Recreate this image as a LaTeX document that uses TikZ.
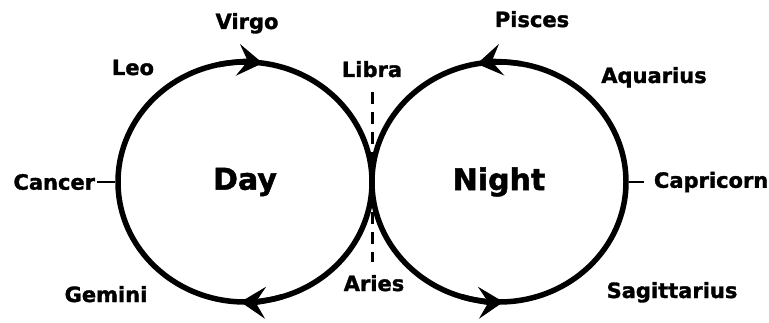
\documentclass[tikz,border=0pt]{standalone}
\usepackage{fontspec}
\setmainfont[BoldFeatures={FakeBold=1.5}]{DejaVu Sans}
\usetikzlibrary{shapes.geometric,positioning,arrows.meta}

\begin{document}
\begin{tikzpicture}[x=1pt,y=1pt,>=Stealth,
   half/.style={ellipse,draw,line width=5.5pt,minimum width=254pt,minimum height=240pt,
     inner sep=0pt,font=\fontsize{30}{32}\selectfont\bfseries},
   sign/.style={inner sep=0pt,font=\fontsize{21}{22}\selectfont\bfseries},
   flow/.style={line width=5.5pt,-{Stealth[length=25pt,width=32pt,inset=10pt,line width=1pt]}},
   tick/.style={line width=2.5pt}]
 \useasboundingbox (0,0) rectangle (769,322);
 \node[half] (D) at (245,140) {Day};
 \node[half] (N) at (499,140) {Night};
 \coordinate (cL) at ([xshift=-18pt]D.west);
 \coordinate (cR) at ([xshift=15pt]N.east);
 \node[sign] (Cn) [left=2pt of cL] {Cancer};
 \node[sign] (Cp) [right=10pt of cR] {Capricorn};
 \node[sign,anchor=base] (Vi) at (247,293) {Virgo};
 \node[sign,anchor=base] (Le) at (133,247) {Leo};
 \node[sign,anchor=base] (Li) at (372,245) {Libra};
 \node[sign,anchor=base] (Pi) at (532,295) {Pisces};
 \node[sign,anchor=base] (Aq) at (654,239) {Aquarius};
 \node[sign,anchor=base] (Ge) at (106,20) {Gemini};
 \node[sign,anchor=base] (Ar) at (374,31) {Aries};
 \node[sign,anchor=base] (Sa) at (672,24) {Sagittarius};
 \draw[tick] (D.west) -- (cL);
 \draw[tick] (N.east) -- (cR);
 \draw[line width=3pt,dash pattern=on 12pt off 8pt,shorten <=15pt,shorten >=13pt]
   (Li.south) -- (Li.south |- Ar.north);
 \draw[flow] ([shift={(102:127 and 120)}]D.center) arc[start angle=102,end angle=82,x radius=127,y radius=120];
 \draw[flow] ([shift={(287:127 and 120)}]D.center) arc[start angle=287,end angle=268,x radius=127,y radius=120];
 \draw[flow] ([shift={(80:127 and 120)}]N.center) arc[start angle=80,end angle=100,x radius=127,y radius=120];
 \draw[flow] ([shift={(253:127 and 120)}]N.center) arc[start angle=253,end angle=272,x radius=127,y radius=120];
\end{tikzpicture}
\end{document}
